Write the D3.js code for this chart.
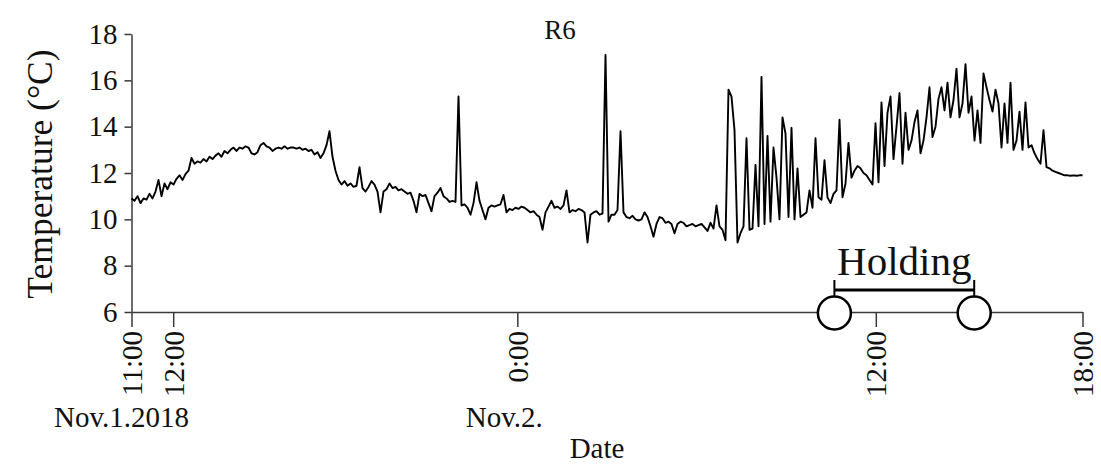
<!DOCTYPE html>
<html>
<head>
<meta charset="utf-8">
<script src="https://cdn.jsdelivr.net/npm/d3@7"></script>
<style>
  html, body { margin: 0; padding: 0; background: #fff; }
  svg { display: block; font-family: "Liberation Serif", "Times New Roman", serif; }
  svg text { font-family: "Liberation Serif", "Times New Roman", serif; }
</style>
</head>
<body>
<svg id="chart" width="1101" height="468"></svg>
<script>
// Temperature readings (°C), one per sample
const temperature = [
  10.9,10.8,11.0,10.7,10.9,10.85,11.1,10.9,11.2,11.7,
  11.0,11.55,11.3,11.6,11.5,11.75,11.9,11.7,11.95,12.1,
  12.65,12.4,12.5,12.45,12.6,12.5,12.7,12.6,12.75,12.85,
  12.7,12.95,12.85,13.0,13.1,12.95,13.1,13.05,13.15,13.1,
  12.85,12.8,12.9,13.2,13.3,13.15,13.1,12.95,13.05,13.1,
  13.05,13.15,13.05,13.1,13.1,13.05,13.1,13.0,13.05,12.95,
  13.0,12.8,12.9,12.65,12.85,13.2,13.8,12.7,12.1,11.7,
  11.5,11.65,11.45,11.55,11.4,11.45,12.25,11.35,11.2,11.4,
  11.65,11.5,11.2,10.3,11.2,11.3,11.55,11.35,11.4,11.25,
  11.3,11.2,11.1,11.15,10.8,10.3,11.1,11.0,11.05,10.7,
  10.35,11.0,11.15,11.35,11.0,10.9,10.75,10.8,10.75,15.3,
  10.6,10.65,10.5,10.2,10.7,11.6,10.8,10.4,10.0,10.5,
  10.6,10.55,10.6,10.65,11.05,10.3,10.45,10.4,10.5,10.45,
  10.55,10.5,10.4,10.3,10.35,10.2,10.1,9.55,10.3,10.55,
  10.8,10.5,10.55,10.45,10.6,11.25,10.3,10.4,10.35,10.45,
  10.4,10.3,9.0,10.2,10.3,10.35,10.2,10.25,17.1,9.9,
  10.2,10.2,10.4,13.8,10.3,10.1,10.05,10.15,10.0,9.95,
  10.0,10.3,10.1,9.7,9.25,9.8,10.1,10.05,9.85,9.9,
  9.8,9.4,9.8,9.9,9.85,9.7,9.75,9.8,9.7,9.75,
  9.8,9.65,9.5,9.85,9.6,10.6,9.7,9.55,9.1,15.6,
  15.3,13.85,9.0,9.4,9.7,13.5,9.55,9.6,12.35,9.7,
  16.15,9.8,13.6,9.9,13.1,11.8,10.0,14.4,13.7,10.1,
  13.95,10.0,12.2,10.1,10.2,10.3,11.25,10.5,13.5,10.95,
  10.85,12.55,10.95,10.7,11.1,11.25,14.3,10.95,11.55,13.3,
  11.8,12.1,12.3,12.2,12.0,11.9,11.7,11.5,14.15,11.6,
  15.05,12.3,14.6,15.3,12.6,14.0,15.45,12.4,14.6,13.0,
  13.4,14.2,14.7,12.85,13.4,14.4,15.7,13.55,14.0,15.2,
  15.7,14.7,15.9,14.4,15.15,16.5,14.4,15.0,16.7,14.6,
  15.3,13.4,14.7,13.3,16.3,15.7,15.15,14.65,15.6,15.0,
  13.1,15.0,13.3,15.9,13.0,13.4,14.65,13.0,15.05,13.1,
  13.2,12.85,12.6,12.4,13.85,12.25,12.2,12.1,12.05,12.0,
  11.95,11.9,11.9,11.88,11.9,11.88,11.9,11.9
];

// Time axis: sample positions of the tick marks and their labels
const tickSamples = [0, 13.9, 128.6, 248.1, 317];
const tickLabels  = ["11:00", "12:00", "0:00", "12:00", "18:00"];
const dateSamples = [0, 128.6];
const dateLabels  = ["Nov.1.2018", "Nov.2."];
// Holding period start / end (sample positions)
const holding = [234.3, 280.9];
const yTicks = [6, 8, 10, 12, 14, 16, 18];

(function () {
const svg = d3.select("#chart");
const pL = 131.5, pR = 1082.5, pT = 34, pB = 312;

const x = d3.scaleLinear().domain([0, temperature.length - 1]).range([pL, pR]);
const y = d3.scaleLinear().domain([6, 18]).range([pB, pT]);

const axisColor = "#3a3a3a";
const serif = "'Liberation Serif', 'Times New Roman', serif";

// Y axis
const gy = svg.append("g").attr("transform", `translate(${pL},0)`)
  .call(d3.axisLeft(y).tickValues(yTicks).tickSize(7).tickPadding(7).tickSizeOuter(0));
gy.attr("font-family", serif);
gy.select(".domain").attr("stroke", axisColor).attr("stroke-width", 1.5);
gy.selectAll(".tick line").attr("stroke", axisColor).attr("stroke-width", 1.5);
gy.selectAll(".tick text").attr("font-size", 29).attr("fill", "#111")
  .attr("font-family", serif);

// X axis
const gx = svg.append("g").attr("transform", `translate(0,${pB})`)
  .call(d3.axisBottom(x).tickValues(tickSamples)
    .tickFormat((d, i) => tickLabels[i]).tickSize(15).tickSizeOuter(0));
gx.attr("font-family", serif);
gx.select(".domain").attr("stroke", axisColor).attr("stroke-width", 1.5);
gx.selectAll(".tick line").attr("stroke", axisColor).attr("stroke-width", 1.5);
gx.selectAll(".tick text")
  .attr("font-size", 29).attr("fill", "#111")
  .attr("font-family", serif)
  .attr("transform", "rotate(-90)")
  .attr("text-anchor", "end")
  .attr("x", -19).attr("y", 0).attr("dy", "0.35em");

// Data line
const line = d3.line().x((d, i) => x(i)).y(d => y(d));
svg.append("path").datum(temperature)
  .attr("d", line).attr("fill", "none")
  .attr("stroke", "#000").attr("stroke-width", 1.9)
  .attr("stroke-linejoin", "round");

// Date labels
svg.selectAll(".date").data(dateSamples).enter().append("text")
  .attr("x", (d, i) => x(d) + (i === 0 ? -10 : -13))
  .attr("y", 427).attr("text-anchor", "middle")
  .attr("font-family", serif)
  .attr("font-size", 29).attr("fill", "#111")
  .text((d, i) => dateLabels[i]);

// Axis titles
svg.append("text").attr("x", 597).attr("y", 458).attr("text-anchor", "middle")
  .attr("font-family", serif)
  .attr("font-size", 29).attr("fill", "#111").text("Date");
svg.append("text").attr("transform", "translate(52,174) rotate(-90)")
  .attr("text-anchor", "middle").attr("font-size", 35.5).attr("fill", "#111")
  .attr("font-family", serif)
  .text("Temperature (°C)");
svg.append("text").attr("x", 560).attr("y", 39).attr("text-anchor", "middle")
  .attr("font-family", serif)
  .attr("font-size", 27).attr("fill", "#111").text("R6");

// Holding bracket
const hx0 = x(holding[0]), hx1 = x(holding[1]);
const by = 290;
svg.append("line").attr("x1", hx0).attr("x2", hx1).attr("y1", by).attr("y2", by)
  .attr("stroke", "#000").attr("stroke-width", 3);
holding.forEach(h => {
  svg.append("line").attr("x1", x(h)).attr("x2", x(h)).attr("y1", 280).attr("y2", 297)
    .attr("stroke", "#000").attr("stroke-width", 2);
});
svg.selectAll(".hold").data(holding).enter().append("circle")
  .attr("cx", d => x(d)).attr("cy", pB + 1).attr("r", 16.5)
  .attr("fill", "#fff").attr("stroke", "#000").attr("stroke-width", 2.5);
svg.append("text").attr("x", (hx0 + hx1) / 2).attr("y", 275).attr("text-anchor", "middle")
  .attr("font-family", serif)
  .attr("font-size", 41).attr("fill", "#111").text("Holding");
})();
</script>
</body>
</html>
